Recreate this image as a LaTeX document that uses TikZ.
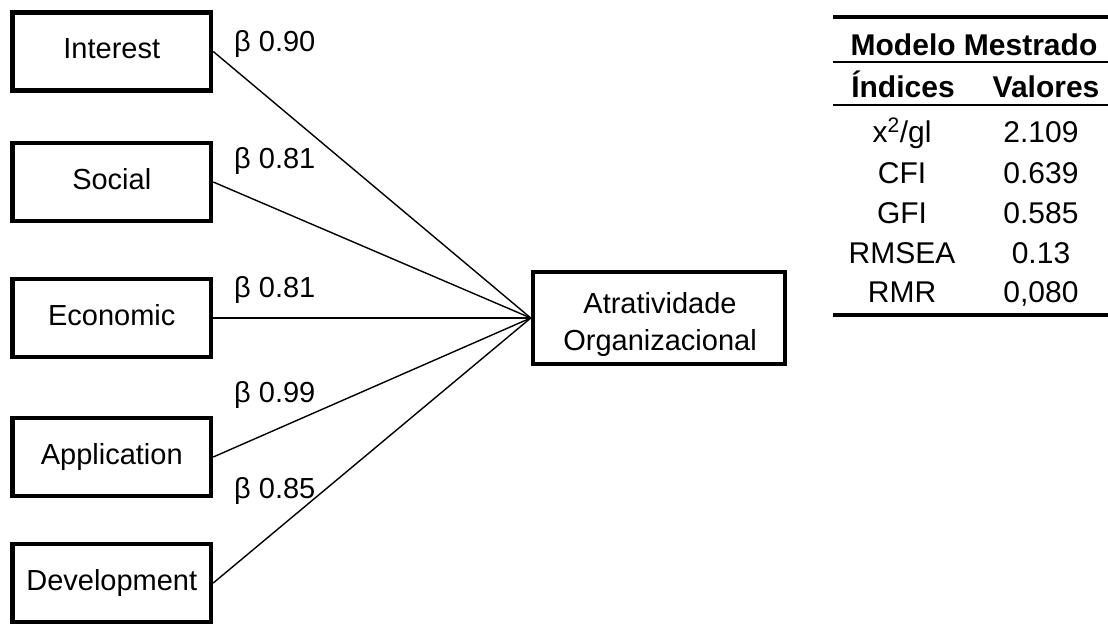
\documentclass[tikz,border=0pt]{standalone}
\usepackage{fontspec}
\setmainfont{Liberation Sans}
\begin{document}
\begin{tikzpicture}[x=1pt,y=-1pt,
  every node/.style={font=\fontsize{29}{37}\selectfont},
  factor/.style={draw,line width=4.5pt,minimum width=198.5pt,minimum height=78pt,inner sep=0pt,text height=21pt,text depth=6pt},
  target/.style={draw,line width=4.5pt,minimum width=252pt,minimum height=92pt,inner sep=0pt},
  tgttext/.style={inner sep=0pt,align=center,anchor=base},
  path/.style={line width=1.4pt},
  coef/.style={anchor=base west,inner sep=0pt},
  cell/.style={anchor=base,inner sep=0pt,font=\fontsize{30}{36}\selectfont},
  hcell/.style={anchor=base,inner sep=0pt,font=\fontsize{30}{36}\selectfont\bfseries},
  thickrule/.style={line width=4pt},
  thinrule/.style={line width=2pt}]
\useasboundingbox (0,0) rectangle (1108,626);
% factor boxes
\node[factor] (int) at (111.75,51.5) {Interest};
\node[factor] (soc) at (111.75,182) {Social};
\node[factor] (eco) at (111.75,318) {Economic};
\node[factor] (app) at (111.75,457) {Application};
\node[factor] (dev) at (111.75,583) {Development};
\node[target] (atr) at (659,318) {};
\node[tgttext] (atrt) at (660,350) {Atratividade\\Organizacional};
% paths
\draw[path] (int.east) -- (atr.west);
\draw[path] (soc.east) -- (atr.west);
\draw[path] (eco.east) -- (atr.west);
\draw[path] (app.east) -- (atr.west);
\draw[path] (dev.east) -- (atr.west);
% coefficients
\node[coef] (c1) at (234,52) {β 0.90};
\node[coef] (c2) at (234,168) {β 0.81};
\node[coef] (c3) at (234,297) {β 0.81};
\node[coef] (c4) at (234,402) {β 0.99};
\node[coef] (c5) at (234,498) {β 0.85};
% table
\coordinate (r1a) at (833,17); \coordinate (r1b) at (1108,17);
\coordinate (r2a) at (833,62); \coordinate (r2b) at (1108,62);
\coordinate (r3a) at (833,105); \coordinate (r3b) at (1108,105);
\coordinate (r4a) at (833,315); \coordinate (r4b) at (1108,315);
\draw[thickrule] (r1a) -- (r1b);
\draw[thinrule] (r2a) -- (r2b);
\draw[thinrule] (r3a) -- (r3b);
\draw[thickrule] (r4a) -- (r4b);
\node[hcell] (th) at (974,56) {Modelo Mestrado};
\node[hcell] (h1) at (903,97) {Índices};
\node[hcell] (h2) at (1046,97) {Valores};
\node[cell] (a1) at (902,142) {x\textsuperscript{2}/gl};
\node[cell] (b1) at (1041,142) {2.109};
\node[cell] (a2) at (902,183) {CFI};
\node[cell] (b2) at (1041,183) {0.639};
\node[cell] (a3) at (902,223) {GFI};
\node[cell] (b3) at (1041,223) {0.585};
\node[cell] (a4) at (902,263) {RMSEA};
\node[cell] (b4) at (1041,263) {0.13};
\node[cell] (a5) at (902,302) {RMR};
\node[cell] (b5) at (1041,302) {0,080};
\end{tikzpicture}
\end{document}
